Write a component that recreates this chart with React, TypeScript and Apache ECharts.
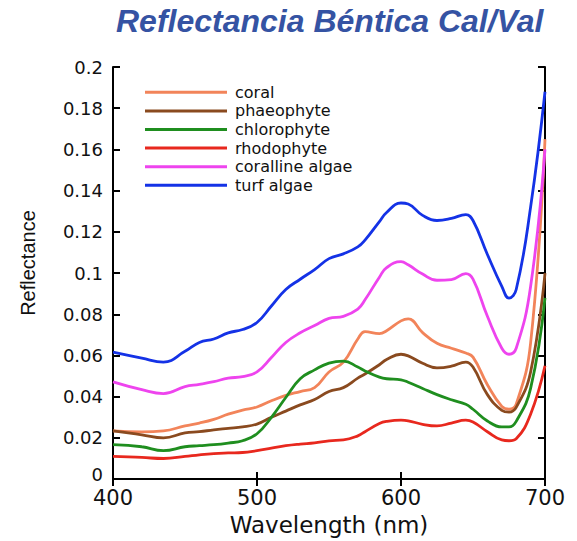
import React, { useEffect, useRef } from "react";
import * as echarts from "echarts";

const wavelengths = [400, 420, 435, 450, 460, 470, 480, 490, 500, 510, 520, 530, 540, 550, 560, 570, 575, 585, 590, 600, 605, 615, 625, 635, 645, 650, 660, 670, 675, 680, 690, 700];

const coral = [0.0234, 0.0229, 0.0234, 0.0258, 0.0272, 0.029, 0.0315, 0.0335, 0.035, 0.038, 0.0406, 0.0425, 0.0444, 0.052, 0.0568, 0.068, 0.0716, 0.0706, 0.072, 0.0768, 0.0778, 0.0711, 0.0659, 0.0635, 0.0612, 0.0592, 0.0458, 0.0353, 0.0339, 0.0363, 0.066, 0.165];
const phaeophyte = [0.0234, 0.0215, 0.02, 0.0224, 0.023, 0.0239, 0.0246, 0.0253, 0.0267, 0.03, 0.033, 0.036, 0.0386, 0.0425, 0.0444, 0.049, 0.051, 0.0555, 0.058, 0.0606, 0.0598, 0.0562, 0.054, 0.0548, 0.0568, 0.0544, 0.041, 0.0334, 0.0325, 0.0348, 0.052, 0.1];
const chlorophyte = [0.0167, 0.0157, 0.0138, 0.0157, 0.0162, 0.0167, 0.0175, 0.0186, 0.022, 0.03, 0.0396, 0.0487, 0.053, 0.0563, 0.0573, 0.0544, 0.0525, 0.0495, 0.0487, 0.0482, 0.047, 0.044, 0.041, 0.0385, 0.0363, 0.0339, 0.0282, 0.0253, 0.0253, 0.028, 0.044, 0.088];
const rhodophyte = [0.011, 0.0105, 0.01, 0.011, 0.0118, 0.0124, 0.0127, 0.0129, 0.0138, 0.015, 0.0162, 0.017, 0.0176, 0.0186, 0.019, 0.021, 0.023, 0.027, 0.028, 0.0286, 0.0283, 0.0266, 0.0258, 0.0272, 0.0286, 0.0277, 0.023, 0.019, 0.0186, 0.0196, 0.0315, 0.055];
const corallineAlgae = [0.0472, 0.0434, 0.0415, 0.0449, 0.046, 0.0473, 0.049, 0.0497, 0.052, 0.059, 0.0663, 0.071, 0.0745, 0.078, 0.079, 0.0825, 0.087, 0.098, 0.1026, 0.1055, 0.104, 0.0995, 0.0965, 0.0968, 0.0997, 0.097, 0.079, 0.0635, 0.0606, 0.0635, 0.0935, 0.16];
const turfAlgae = [0.0616, 0.0587, 0.0568, 0.062, 0.0663, 0.068, 0.071, 0.0726, 0.076, 0.084, 0.092, 0.097, 0.1017, 0.107, 0.1093, 0.1127, 0.116, 0.125, 0.1294, 0.134, 0.1335, 0.128, 0.1255, 0.1265, 0.1284, 0.1255, 0.109, 0.0935, 0.0878, 0.092, 0.132, 0.188];

const seriesNames = ["coral", "phaeophyte", "chlorophyte", "rhodophyte", "coralline algae", "turf algae"];
const seriesValues = [coral, phaeophyte, chlorophyte, rhodophyte, corallineAlgae, turfAlgae];
const seriesColors = ["#F2845A", "#8A4A1F", "#1F8E1F", "#E8281E", "#EE44EE", "#1432E6"];

export default function App() {
  const ref = useRef<HTMLDivElement>(null);
  useEffect(() => {
    if (!ref.current) return;
    const chart = echarts.init(ref.current, null, { renderer: "svg" });
    const axisLine = { show: true, lineStyle: { color: "#000", width: 2 } };
    const axisTick = { show: true, inside: true, length: 7, lineStyle: { color: "#000", width: 2 } };
    chart.setOption({
      animation: false,
      backgroundColor: "#fff",
      title: {
        text: "Reflectancia Béntica Cal/Val",
        left: 116,
        top: 5,
        padding: 0,
        textStyle: {
          fontFamily: "Liberation Sans",
          fontSize: 32,
          fontStyle: "italic",
          fontWeight: "bold",
          color: "#3553A3",
        },
      },
      legend: {
        orient: "vertical",
        left: 145,
        top: 83,
        padding: 0,
        icon: "rect",
        itemWidth: 82,
        itemHeight: 3,
        itemGap: 0,
        data: seriesNames,
        textStyle: {
          fontFamily: "DejaVu Sans",
          fontSize: 16,
          color: "#111",
          lineHeight: 18.6,
          padding: [0, 0, 0, 3],
        },
      },
      grid: { left: 113, right: 32, top: 67, bottom: 55, containLabel: false },
      xAxis: [
        {
          type: "value",
          min: 400,
          max: 700,
          interval: 100,
          position: "bottom",
          axisLine,
          axisTick,
          splitLine: { show: false },
          axisLabel: { fontFamily: "DejaVu Sans", fontSize: 21, color: "#111", margin: 8 },
          name: "Wavelength (nm)",
          nameLocation: "middle",
          nameGap: 30,
          nameTextStyle: { fontFamily: "DejaVu Sans", fontSize: 23, color: "#111" },
        },
        {
          type: "value",
          min: 400,
          max: 700,
          interval: 100,
          position: "top",
          axisLine,
          axisTick,
          splitLine: { show: false },
          axisLabel: { show: false },
        },
      ],
      yAxis: [
        {
          type: "value",
          min: 0,
          max: 0.2,
          interval: 0.02,
          position: "left",
          axisLine,
          axisTick,
          splitLine: { show: false },
          axisLabel: {
            fontFamily: "DejaVu Sans",
            fontSize: 18,
            color: "#111",
            margin: 10,
            formatter: (v: number) => (v === 0 ? "{z|0}" : String(Number(v.toFixed(2)))),
            rich: { z: { fontFamily: "DejaVu Sans", fontSize: 18, color: "#111", padding: [0, 0, 10, 0] } },
          },
          name: "Reflectance",
          nameLocation: "middle",
          nameGap: 75,
          nameTextStyle: { fontFamily: "Liberation Sans", fontSize: 20, color: "#111", padding: [0, 0, 0, 20] },
        },
        {
          type: "value",
          min: 0,
          max: 0.2,
          interval: 0.02,
          position: "right",
          axisLine,
          axisTick,
          splitLine: { show: false },
          axisLabel: { show: false },
        },
      ],
      series: seriesNames.map((name, i) => ({
        name,
        type: "line",
        xAxisIndex: 0,
        yAxisIndex: 0,
        data: wavelengths.map((w, j) => [w, seriesValues[i][j]]),
        smooth: 0.45,
        showSymbol: false,
        symbol: "none",
        lineStyle: { color: seriesColors[i], width: 2.8 },
        itemStyle: { color: seriesColors[i] },
      })),
    });
    return () => chart.dispose();
  }, []);
  return (
    <div
      ref={ref}
      style={{ position: "fixed", left: 0, top: 0, width: 577, height: 541 }}
    />
  );
}
